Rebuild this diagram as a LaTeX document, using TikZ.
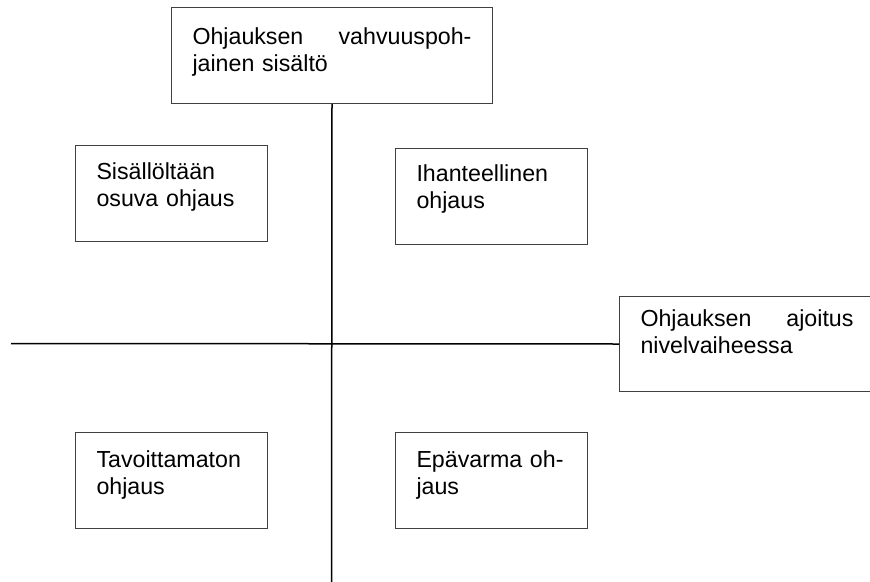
\documentclass[tikz,border=0pt]{standalone}
\usepackage{fontspec}
\setmainfont{Liberation Sans}
\usepackage{tikz}

\begin{document}
\begin{tikzpicture}[x = 1pt, y = -1pt,
                      box/.style = {draw = black!75, line width = 1pt, anchor = north west,
                                    inner xsep = 21pt, text width = 150pt, align = left,
                                    text height = 16.6pt, font = \fontsize{23.2}{27.5}\selectfont},
                      axis/.style = {draw = black, line width = 1.5pt}]
    \useasboundingbox (0, 0) rectangle (870, 581);
    \node [box, text width = 279pt, inner ysep = 20pt, text depth = 39.4pt] (vahvuus) at (171, 7){Ohjauksen \hfill vahvuuspoh-\\jainen sisältö};
    \node [box, text width = 213pt, inner ysep = 13pt, text depth = 52.4pt] (ajoitus) at (619, 296){Ohjauksen \hfill ajoitus\\nivelvaiheessa};
    \node [box, inner ysep = 17pt, text depth = 45.4pt] (osuva) at (75, 145){Sisällöltään\\osuva ohjaus};
    \node [box, inner ysep = 16pt, text depth = 47.4pt] (ihanne) at (395, 148){Ihanteellinen\\ohjaus};
    \node [box, inner ysep = 18pt, text depth = 43.4pt] (tavoittamaton) at (75, 432){Tavoittamaton\\ohjaus};
    \node [box, inner ysep = 18pt, text depth = 43.4pt] (epavarma) at (395, 432){Epävarma oh-\\jaus};
    \coordinate (yend) at (331.5, 583);
    \coordinate (xend) at (11, 343.5);
    \draw [axis] (vahvuus.south) -- (yend);
    \draw [axis] (xend) -- (ajoitus.west);
    \end{tikzpicture}
\end{document}
